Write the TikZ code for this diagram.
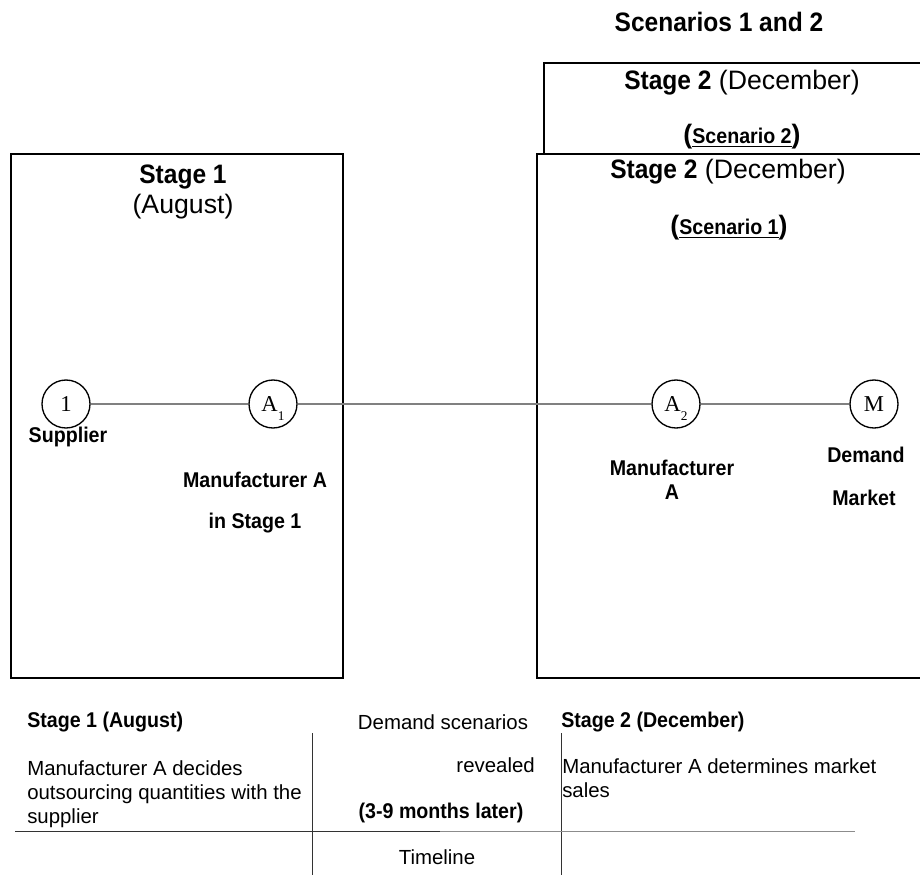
\documentclass[tikz,border=0pt]{standalone}
\usepackage{fontspec}
\setmainfont{Liberation Sans}
\newfontfamily\condfont[FakeStretch=0.92]{Liberation Sans}
\newfontfamily\seriffont{Liberation Serif}
\newcommand{\subidx}[1]{\smash{\raisebox{-0.9ex}{\fontsize{10}{10}\selectfont #1}}}
\newcommand{\scenlabel}[1]{{\fontsize{20}{20}\selectfont\bfseries(}{\condfont\bfseries\fontsize{16}{16}\selectfont\underline{#1}}{\fontsize{20}{20}\selectfont\bfseries)}}
\tikzset{
  stagebox/.style={draw, line width=1.1pt},
  station/.style={circle, draw, line width=1pt, minimum size=36pt, inner sep=0pt,
    font=\seriffont\fontsize{17}{17}\selectfont},
  link/.style={draw=black!50, line width=0.8pt},
  boxtitle/.style={inner sep=0pt, font=\fontsize{20}{24}\selectfont},
  actor/.style={inner sep=0pt, font=\condfont\bfseries\fontsize{16}{18}\selectfont},
  note/.style={inner sep=0pt, align=left, font=\fontsize{15.3}{18}\selectfont},
  notehead/.style={inner sep=0pt, font=\condfont\bfseries\fontsize{16}{18}\selectfont},
  rule/.style={draw=black!80, line width=0.7pt}
}
\begin{document}
\begin{tikzpicture}[x=0.75pt, y=-0.75pt]
  \useasboundingbox (0,0) rectangle (920,874);

  % stage boxes
  \node[boxtitle, font=\condfont\bfseries\fontsize{20}{24}\selectfont] (scen) at (719,22) {Scenarios 1 and 2};
  \draw[stagebox] (544,63) rectangle (935,154);
  \draw[stagebox] (537,154) rectangle (935,678);
  \draw[stagebox] (11,154) rectangle (343,678);

  \node[boxtitle] (s2b) at (742,83) {{\condfont\bfseries Stage 2} (December)};
  \node[boxtitle] (sc2) at (742,137) {\scenlabel{Scenario 2}};
  \node[boxtitle] (s2a) at (728,172) {{\condfont\bfseries Stage 2} (December)};
  \node[boxtitle] (sc1) at (729,228) {\scenlabel{Scenario 1}};
  \node[boxtitle, font=\condfont\bfseries\fontsize{20}{24}\selectfont] (s1) at (183,177) {Stage 1};
  \node[boxtitle] (aug) at (183,207) {(August)};

  % network
  \node[station] (sup) at (66,404) {1};
  \node[station] (a1) at (273,404) {A\subidx{1}};
  \node[station] (a2) at (676,404) {A\subidx{2}};
  \node[station] (mkt) at (874,404) {M};
  \draw[link] (sup) -- (a1) -- (a2) -- (mkt);

  \node[actor] (supl) at (68,437) {Supplier};
  \node[actor] (manA1) at (255,480) {Manufacturer A};
  \node[actor] (inst) at (255,523) {in Stage 1};
  \node[actor, align=center] (manA2) at (672,480) {Manufacturer\\A};
  \node[actor] (dem) at (866,455) {Demand};
  \node[actor] (mar) at (864,498) {Market};

  % timeline table
  \node[notehead, anchor=west] (t1) at (27,722) {Stage 1 (August)};
  \node[note, anchor=north west] (t1txt) at (27,760)
    {Manufacturer A decides\\outsourcing quantities with the\\supplier};
  \node[note] (rev1) at (443,722) {Demand scenarios};
  \node[note, anchor=east] (rev2) at (535,765) {revealed};
  \node[notehead] (rev3) at (441,813) {(3-9 months later)};
  \node[note] (tl) at (437,857) {Timeline};
  \node[notehead, anchor=west] (t2) at (561,722) {Stage 2 (December)};
  \node[note, anchor=north west] (t2txt) at (562,758)
    {Manufacturer A determines market\\sales};

  \draw[rule] (312,733) -- (312,880);
  \draw[rule] (561,733) -- (561,880);
  \draw[rule] (15,831) -- (440,831);
  \draw[rule, draw=black!45] (440,831) -- (855,831);
\end{tikzpicture}
\end{document}
